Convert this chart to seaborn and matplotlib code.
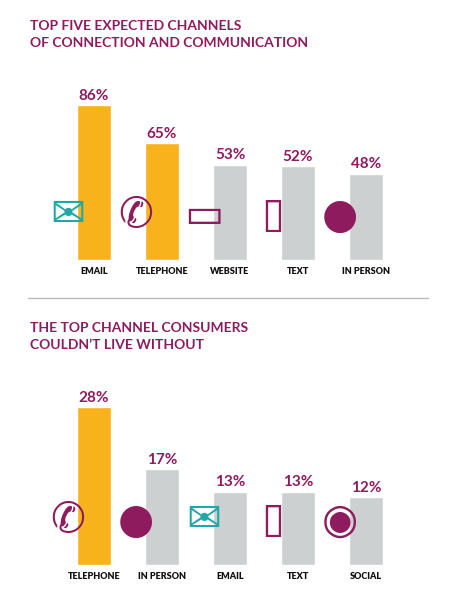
import matplotlib
matplotlib.use("Agg")
import matplotlib.pyplot as plt
import seaborn as sns
import pandas as pd

sns.set_style("white")
plt.rcParams['font.family'] = ['Lato', 'DejaVu Sans']

PURPLE = "#8E1B5E"
TEAL = "#1FA9A6"
ORANGE = "#F8B21C"
GRAY = "#CDD0D0"

top_title = "TOP FIVE EXPECTED CHANNELS\nOF CONNECTION AND COMMUNICATION"
top_cats = ["EMAIL", "TELEPHONE", "WEBSITE", "TEXT", "IN PERSON"]
top_vals = [86, 65, 53, 52, 48]
top_colors = [ORANGE, ORANGE, GRAY, GRAY, GRAY]
top_icons = ["✉", "✆", "▭", "▯", "●"]
top_icon_colors = [TEAL, PURPLE, PURPLE, PURPLE, PURPLE]

bot_title = "THE TOP CHANNEL CONSUMERS\nCOULDN\u2019T LIVE WITHOUT"
bot_cats = ["TELEPHONE", "IN PERSON", "EMAIL", "TEXT", "SOCIAL"]
bot_vals = [28, 17, 13, 13, 12]
bot_colors = [ORANGE, GRAY, GRAY, GRAY, GRAY]
bot_icons = ["✆", "●", "✉", "▯", "◉"]
bot_icon_colors = [PURPLE, PURPLE, TEAL, PURPLE, PURPLE]

W, H = 454, 607
fig = plt.figure(figsize=(W/100, H/100), dpi=100)

def px_axes(x0, y0, x1, y1):
    return fig.add_axes([x0/W, 1-y1/H, (x1-x0)/W, (y1-y0)/H])

def draw(ax, cats, vals, colors, icons, icol, ymax):
    df = pd.DataFrame({"cat": cats, "val": vals})
    sns.barplot(data=df, x="cat", y="val", hue="cat", palette=colors, width=0.5,
                legend=False, ax=ax, saturation=1)
    ax.set_ylim(0, ymax)
    ax.set_xlim(-0.5, 4.5)
    ax.axis("off")
    for i, (v, ic, c) in enumerate(zip(vals, icons, icol)):
        ax.text(i, v + ymax*0.015, f"{v}%", ha="center", va="bottom",
                color=PURPLE, fontsize=11, fontweight="bold")
        ax.text(i, -ymax*0.04, cats[i], ha="center", va="top", fontsize=6.5,
                fontweight="heavy", color="#111111")
        ax.text(i - 0.38, ymax*0.27, ic, ha="center", va="center", fontsize=30,
                color=c, fontweight="bold", family=['DejaVu Sans'])

ax1 = px_axes(60, 95, 400, 260)
draw(ax1, top_cats, top_vals, top_colors, top_icons, top_icon_colors, 165/1.8)
ax2 = px_axes(60, 400, 400, 565)
draw(ax2, bot_cats, bot_vals, bot_colors, bot_icons, bot_icon_colors, 165/5.64)

fig.text(30/W, 1-20/H, top_title, ha="left", va="top", color=PURPLE,
         fontsize=10, fontweight="bold", linespacing=1.5)
fig.text(30/W, 1-322/H, bot_title, ha="left", va="top", color=PURPLE,
         fontsize=10, fontweight="bold", linespacing=1.5)
fig.add_artist(plt.Line2D([28/W, 428/W], [1-298/H, 1-298/H], color="#BBBBBB", lw=1))

fig.savefig("out.png", dpi=100)
